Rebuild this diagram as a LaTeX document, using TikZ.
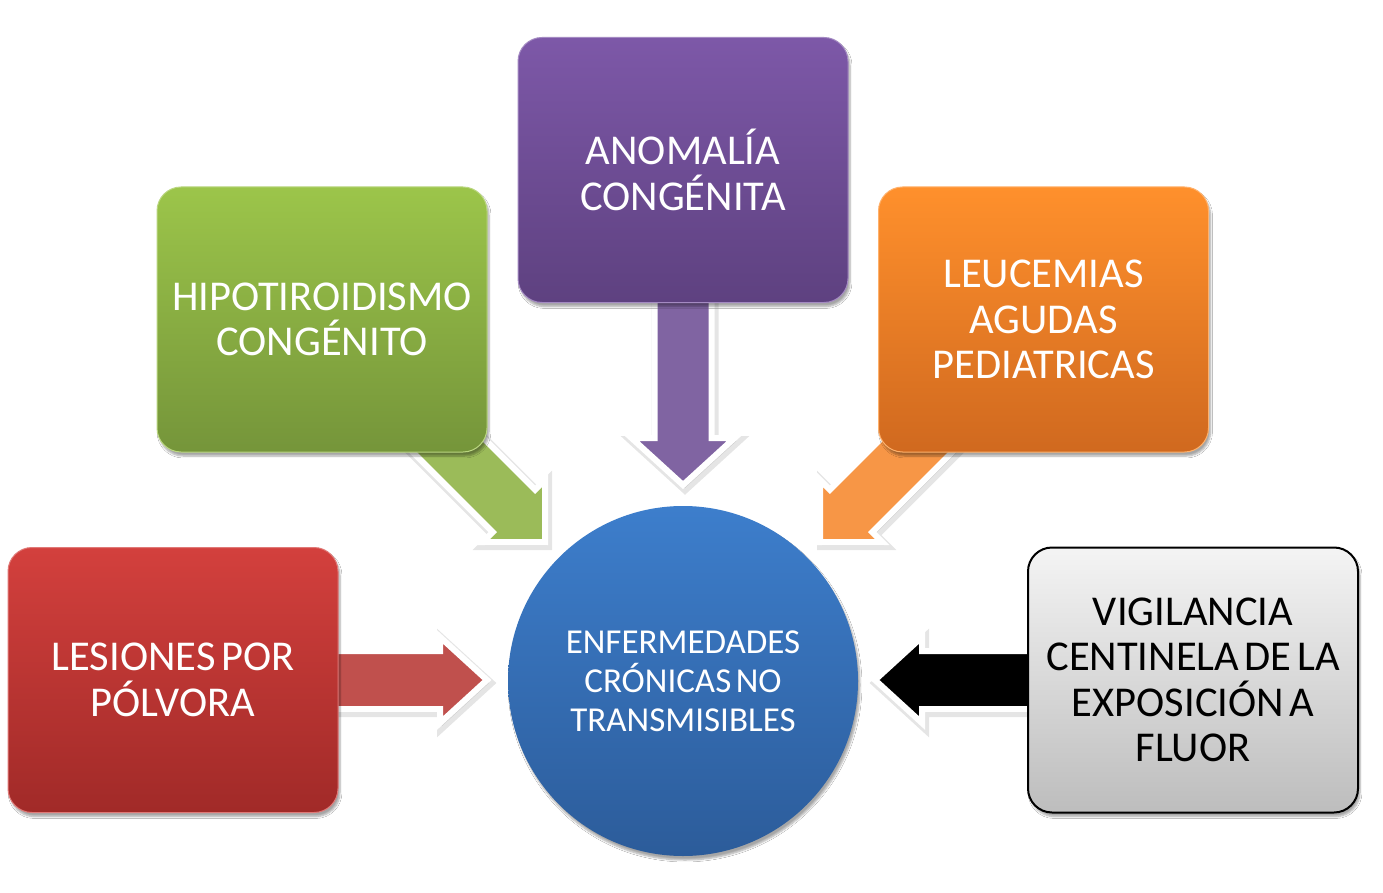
\documentclass[tikz,border=0pt]{standalone}
\usepackage{fontspec}
\setmainfont{Carlito}
\usetikzlibrary{shadows,shadows.blur}
\definecolor{purpTop}{HTML}{7D58A8}
\definecolor{purpBot}{HTML}{5E4180}
\definecolor{purpArr}{HTML}{8064A2}
\definecolor{grnTop}{HTML}{9CC54A}
\definecolor{grnBot}{HTML}{75953A}
\definecolor{grnArr}{HTML}{9BBB59}
\definecolor{orgTop}{HTML}{FF902C}
\definecolor{orgBot}{HTML}{D0691F}
\definecolor{orgArr}{HTML}{F79646}
\definecolor{redTop}{HTML}{D3403D}
\definecolor{redBot}{HTML}{A12A28}
\definecolor{redArr}{HTML}{C0504D}
\definecolor{gryTop}{HTML}{F4F4F4}
\definecolor{gryBot}{HTML}{BDBDBD}
\definecolor{bluTop}{HTML}{3D7ECC}
\definecolor{bluBot}{HTML}{2C5C9A}
\newcommand{\barrow}[7]{%
  \begin{scope}[shift={(#1)}, xshift=2pt, yshift=-3pt, rotate=#2]
    \draw[arrshadow] (0,0) -- (-#6,#5) -- (-#6,#4) -- (-#3,#4) -- (-#3,-#4) -- (-#6,-#4) -- (-#6,-#5) -- cycle;
  \end{scope}
  \begin{scope}[shift={(#1)}, rotate=#2]
    \filldraw[arrbody, fill=#7] (0,0) -- (-#6,#5) -- (-#6,#4) -- (-#3,#4) -- (-#3,-#4) -- (-#6,-#4) -- (-#6,-#5) -- cycle;
  \end{scope}}
\newcommand{\tightcenter}{\centering\spaceskip=0.13em\relax}
\begin{document}
\begin{tikzpicture}[x=1pt,y=1pt,
  arrshadow/.style={draw=black, opacity=0.10, line width=10pt, line join=miter, fill=black},
  arrbody/.style={draw=white, line width=6pt, line join=miter},
  box/.style={rounded corners=24pt, minimum width=330pt, minimum height=265pt,
    text width=322pt, text=white,
    font=\fontsize{42.5}{45.5}\selectfont,
    execute at begin node=\tightcenter,
    blur shadow={shadow xshift=2pt, shadow yshift=-4pt, shadow blur steps=6, shadow opacity=35}},
  hub/.style={circle, minimum size=350pt, inner sep=0pt, text width=300pt,
    text=white, font=\fontsize{35}{39}\selectfont,
    execute at begin node=\tightcenter,
    top color=bluTop, bottom color=bluBot,
    blur shadow={shadow xshift=2pt, shadow yshift=-4pt, shadow blur steps=6, shadow opacity=35}}
]
\useasboundingbox (0,0) rectangle (1383,-893);
\fill[white] (0,0) rectangle (1383,-893);

\coordinate (tipA) at (683,-485);
\coordinate (tipH) at (545,-542);
\coordinate (tipL) at (820,-542);
\coordinate (tipP) at (487,-680);
\coordinate (tipV) at (875,-680);

\barrow{tipA}{-90}{195}{28.5}{51.5}{47}{purpArr}
\barrow{tipH}{-45}{190}{30}{44}{44}{grnArr}
\barrow{tipL}{-135}{190}{30}{44}{44}{orgArr}
\barrow{tipP}{0}{160}{29}{43}{47}{redArr}
\barrow{tipV}{180}{165}{29}{43}{47}{black}

\node[box, top color=purpTop, bottom color=purpBot, draw=purpTop!70!white, line width=1pt] (anom) at (683,-170) {ANOMALÍA\\CONGÉNITA};
\node[box, top color=grnTop, bottom color=grnBot, draw=grnTop!70!white, line width=1pt] (hipo) at (322,-319.5) {HIPOTIROIDISMO\\CONGÉNITO};
\node[box, top color=orgTop, bottom color=orgBot, draw=orgTop!70!white, line width=1pt] (leuc) at (1043.5,-319.5) {LEUCEMIAS\\AGUDAS\\PEDIATRICAS};
\node[box, top color=redTop, bottom color=redBot, draw=redTop!70!white, line width=1pt] (les) at (173,-680) {LESIONES POR\\PÓLVORA};
\node[box, top color=gryTop, bottom color=gryBot, draw=black, line width=2pt, text=black] (vig) at (1193,-680) {VIGILANCIA\\CENTINELA DE LA\\EXPOSICIÓN A\\FLUOR};
\node[hub] (enf) at (683,-681) {ENFERMEDADES\\CRÓNICAS NO\\TRANSMISIBLES};
\end{tikzpicture}
\end{document}
